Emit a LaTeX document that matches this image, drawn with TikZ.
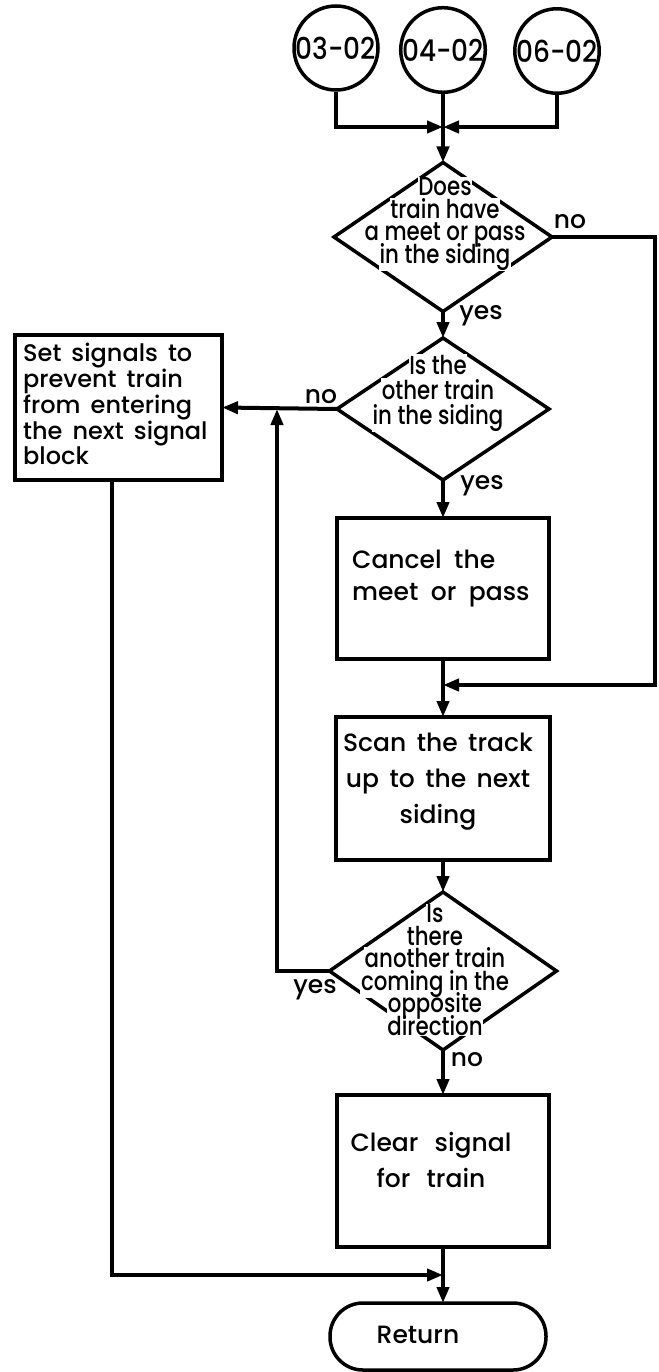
\documentclass[tikz,border=0pt]{standalone}
\usepackage{fontspec}
\setmainfont{Poppins Medium}
\newfontfamily\narrowfont{Poppins Medium}[FakeStretch=0.82]
\newfontfamily\tagfont{Poppins Medium}[FakeStretch=0.88]
\usetikzlibrary{shapes.geometric,arrows.meta}

% Question text sits on the diamond outline; a first pass lays white
% grounds under every line, a second pass sets the words on top.
\setlength{\fboxsep}{0.6pt}
\newif\ifgroundpass
\newcommand{\cutline}[1]{\ifgroundpass\colorbox{white}{\phantom{#1}}\else#1\fi}
% keep the baseline distance even when boxed lines are tall
\newcommand{\tightlines}{\lineskiplimit=-100pt\relax}
\newcommand{\widewords}[1]{\spaceskip=#1\relax}

\newcommand{\qmeet}{\cutline{Does}\\\cutline{train have}\\
  \cutline{a meet or pass}\\\cutline{in the siding}}
\newcommand{\qother}{\cutline{Is the}\\\cutline{other train}\\\cutline{in the siding}}
\newcommand{\qoncoming}{\cutline{Is}\\\cutline{there}\\\cutline{another train}\\
  \cutline{coming in the}\\\cutline{opposite}\\\cutline{direction}}

\begin{document}
\begin{tikzpicture}[x=1pt,y=-1pt,
  wire/.style={line width=4pt},
  flow/.style={line width=4pt,-{Triangle[length=16pt,width=12pt]}},
  term/.style={circle,draw,line width=3.5pt,minimum size=84pt,inner sep=0pt,
    font=\tagfont\fontsize{30}{30}\selectfont},
  decision/.style={diamond,draw,line width=3.5pt,inner sep=0pt,outer sep=0pt},
  procbox/.style={rectangle,draw,line width=4pt,inner sep=0pt,outer sep=0pt},
  endbox/.style={rectangle,rounded corners=33pt,draw,line width=3.5pt,
    inner sep=0pt,outer sep=0pt},
  qtext/.style={align=center,inner sep=0pt,
    font={\narrowfont\fontsize{26}{22.5}\selectfont\tightlines}},
  ground/.style={font={\narrowfont\fontsize{26}{22.5}\selectfont\tightlines\groundpasstrue}},
  btext/.style={inner sep=0pt,font=\fontsize{25}{32}\selectfont},
  lbl/.style={inner sep=0pt,font=\fontsize{25}{25}\selectfont}
]
\useasboundingbox (0,0) rectangle (658,1372);

% entry connectors
\node[term] (c1) at (336,48) {03-02};
\node[term] (c2) at (443,50) {04-02};
\node[term] (c3) at (557,51) {06-02};
\coordinate (join) at (443,127);

% shapes of the chart
\node[decision,minimum width=218pt,minimum height=149pt] (d1) at (443,237) {};
\node[decision,minimum width=212pt,minimum height=142pt] (d2) at (443,409) {};
\node[procbox,minimum width=207pt,minimum height=145pt] (set) at (118.5,407.5) {};
\node[procbox,minimum width=212pt,minimum height=141pt] (cancel) at (443,588.5) {};
\node[procbox,minimum width=214pt,minimum height=143pt] (scan) at (443,788.5) {};
\node[decision,minimum width=227pt,minimum height=158pt] (d3) at (443,971) {};
\node[procbox,minimum width=212pt,minimum height=152pt] (clear) at (443,1171) {};
\node[endbox,minimum width=216pt,minimum height=67pt] (ret) at (438,1336.5) {};

% questions: white grounds first, words second
\node[qtext,ground] (d1g) at (445,224) {\qmeet};
\node[qtext,ground,font={\narrowfont\fontsize{26}{25}\selectfont\tightlines\groundpasstrue}]
  (d2g) at (438,393) {\qother};
\node[qtext,ground] (d3g) at (435,970) {\qoncoming};
\node[qtext] (d1t) at (445,224) {\qmeet};
\node[qtext,font={\narrowfont\fontsize{26}{25}\selectfont\tightlines}]
  (d2t) at (438,393) {\qother};
\node[qtext] (d3t) at (435,970) {\qoncoming};

% actions
\node[btext,anchor=west,align=left,
  font={\fontsize{24}{23.5}\selectfont\widewords{0.42em}}]
  (sett) at (23,404) {Set signals to\\prevent train\\from entering\\the next signal\\block};
\node[btext,anchor=west,align=left,font={\fontsize{25}{32}\selectfont\widewords{0.5em}}]
  (cancelt) at (352,579) {Cancel the\\meet or pass};
\node[btext,align=center,font={\fontsize{25}{36}\selectfont\widewords{0.42em}}]
  (scant) at (438,782) {Scan the track\\up to the next\\siding};
\node[btext,align=center,font={\fontsize{25}{36}\selectfont\widewords{0.65em}}]
  (cleart) at (431,1160) {Clear signal\\for train};
\node[btext] (rett) at (418,1335) {Return};

% branch labels
\node[lbl] (no1) at (570,222) {no};
\node[lbl] (yes1) at (481,316) {yes};
\node[lbl] (no2) at (321,397) {no};
\node[lbl] (yes2) at (482,486) {yes};
\node[lbl] (yes3) at (315,990) {yes};
\node[lbl] (no3) at (467,1060) {no};

% connectors
\draw[flow] (c1.south) |- (join);
\draw[flow] (c3.south) |- (join);
\draw[wire] (c2.south) -- (join);
\draw[flow] (join) -- (d1.north);
\draw[flow] (d1.south) -- (d2.north);
\draw[flow] (d2.west) -- (set.east);
\draw[flow] (d2.south) -- (cancel.north);

\coordinate (merge1) at (443,685);
\coordinate (rail) at (655,685);
\draw[wire] (cancel.south) -- (merge1);
\draw[flow] (d1.east) -| (rail) -- (merge1);
\draw[flow] (merge1) -- (scan.north);
\draw[flow] (scan.south) -- (d3.north);

\coordinate (loopend) at (277,409);
\draw[flow] (d3.west) -| (loopend);
\draw[flow] (d3.south) -- (clear.north);

\coordinate (merge2) at (443,1275);
\draw[flow] ([xshift=-7pt]set.south) |- (merge2);
\draw[wire] (clear.south) -- (merge2);
\draw[flow] (merge2) -- (merge2 |- ret.north);
\end{tikzpicture}
\end{document}
